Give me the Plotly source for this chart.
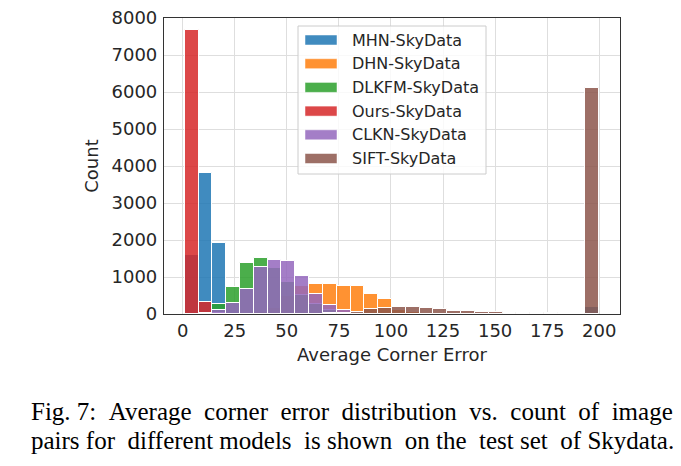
import plotly.graph_objects as go

# ---- data ----
bin_edges = [1.00, 7.63, 14.27, 20.90, 27.53, 34.17, 40.80, 47.43, 54.07, 60.70,
             67.33, 73.97, 80.60, 87.23, 93.87, 100.50, 107.13, 113.77, 120.40, 127.03,
             133.67, 140.30, 146.93, 153.57, 160.20, 166.83, 173.47, 180.10, 186.73, 193.37,
             200.00]

series_names = ["MHN-SkyData", "DHN-SkyData", "DLKFM-SkyData", "Ours-SkyData", "CLKN-SkyData", "SIFT-SkyData"]

mhn = [1593, 3817, 1921, 120, 40, 10, 0, 0, 0, 0,
       0, 0, 0, 0, 0, 0, 0, 0, 0, 0,
       0, 0, 0, 0, 0, 0, 0, 0, 0, 200]
dhn = [0, 0, 0, 0, 10, 50, 150, 480, 745, 820,
       820, 765, 746, 546, 400, 120, 60, 30, 15, 10,
       5, 0, 0, 0, 0, 0, 0, 0, 0, 0]
dlkfm = [0, 0, 260, 738, 1375, 1521, 1250, 855, 520, 260,
         110, 40, 15, 5, 0, 0, 0, 0, 0, 0,
         0, 0, 0, 0, 0, 0, 0, 0, 0, 0]
ours = [7670, 320, 40, 0, 0, 0, 0, 0, 0, 0,
        0, 0, 0, 0, 0, 0, 0, 0, 0, 0,
        0, 0, 0, 0, 0, 0, 0, 0, 0, 0]
clkn = [0, 20, 100, 292, 674, 1266, 1457, 1421, 1038, 546,
        254, 109, 30, 10, 0, 0, 0, 0, 0, 0,
        0, 0, 0, 0, 0, 0, 0, 0, 0, 0]
sift = [0, 0, 0, 0, 0, 0, 0, 0, 0, 10,
        20, 30, 50, 128, 164, 183, 183, 164, 137, 82,
        73, 46, 64, 37, 20, 20, 20, 0, 0, 6120]

x_ticks = [0, 25, 50, 75, 100, 125, 150, 175, 200]
y_ticks = [0, 1000, 2000, 3000, 4000, 5000, 6000, 7000, 8000]

caption_lines = [
    "Fig. 7: Average corner error distribution vs. count of image",
    "pairs for different models is shown on the test set of Skydata.",
]

# ---- styling ----
colors = ["31,119,180", "255,127,14", "44,160,44", "214,39,40", "148,103,189", "140,86,75"]
alpha = 0.85
W, H = 681, 466
OFF = 8  # page body margin in the browser
# target plot box in screen pixels
SL, SR, ST, SB = 164, 620, 18, 314
L, R, T, B = SL - OFF, SR - OFF, ST - OFF, SB - OFF

def px(x):
    return (x - SL) / (SR - SL)

def py(y):
    return (SB - y) / (SB - ST)

centers = [(a + b) / 2 for a, b in zip(bin_edges[:-1], bin_edges[1:])]
widths = [b - a for a, b in zip(bin_edges[:-1], bin_edges[1:])]

fig = go.Figure()
all_series = [mhn, dhn, dlkfm, ours, clkn, sift]
for name, vals, c in zip(series_names, all_series, colors):
    fig.add_trace(go.Bar(
        x=centers, y=vals, width=widths, name=name,
        marker=dict(color=f"rgba({c},{alpha})", line=dict(color="white", width=1)),
        showlegend=False,
    ))

grid = "#dedede"
frame = "#333333"
tick_font = dict(family="DejaVu Sans", size=18, color="#262626")
title_font = dict(family="DejaVu Sans", size=18, color="#262626")

fig.update_layout(
    width=W, height=H,
    margin=dict(l=L, r=W - R, t=T, b=H - B, pad=0, autoexpand=False),
    paper_bgcolor="white", plot_bgcolor="white",
    barmode="overlay", bargap=0,
    font=dict(family="DejaVu Sans", color="#262626"),
)
fig.update_xaxes(
    range=[-8.95, 209.95], tickvals=x_ticks, ticktext=[str(v) for v in x_ticks],
    showgrid=True, gridcolor=grid, gridwidth=1.2, zeroline=False,
    showline=True, linecolor=frame, linewidth=1.2, mirror=True,
    ticks="", ticklen=0, tickfont=tick_font, automargin=False, ticklabeloverflow="allow",
    title=dict(text="Average Corner Error", font=title_font, standoff=8),
)
fig.update_yaxes(
    range=[0, 8000], tickvals=y_ticks, ticktext=[str(v) for v in y_ticks],
    showgrid=True, gridcolor=grid, gridwidth=1.2, zeroline=False,
    showline=True, linecolor=frame, linewidth=1.2, mirror=True,
    ticks="", ticklen=0, tickfont=tick_font, automargin=False, ticklabelstandoff=2,
    ticklabeloverflow="allow",
    title=dict(text="Count", font=title_font, standoff=8),
)

# ---- legend (drawn manually to match patch shape) ----
fig.add_shape(type="rect", xref="paper", yref="paper",
              x0=px(298), x1=px(486), y0=py(174), y1=py(26),
              fillcolor="rgba(255,255,255,0.8)", line=dict(color="#cccccc", width=1))
for i, (name, c) in enumerate(zip(series_names, colors)):
    yc = 40 + 23.7 * i
    fig.add_shape(type="rect", xref="paper", yref="paper",
                  x0=px(305), x1=px(337), y0=py(yc + 5), y1=py(yc - 5),
                  fillcolor=f"rgba({c},{alpha})", line=dict(color="white", width=0.5))
    fig.add_annotation(xref="paper", yref="paper", x=px(350), y=py(yc),
                       xanchor="left", yanchor="middle", showarrow=False,
                       text=name, font=dict(family="DejaVu Sans", size=16, color="#262626"))

# ---- caption (justified by widening word gaps) ----
NB = "\u00a0"
line1_words = caption_lines[0].split(" ")
line1 = line1_words[0]
for k, w in enumerate(line1_words[1:]):
    line1 += (" " + NB if k in (1, 2, 3, 4, 5, 6, 7, 8) else " ") + w
line2_words = caption_lines[1].split(" ")
line2 = line2_words[0]
for k, w in enumerate(line2_words[1:]):
    line2 += (" " + NB if k in (1, 3, 5, 7, 9) else " ") + w
for line, yc in zip([line1, line2], [411, 440]):
    fig.add_annotation(xref="paper", yref="paper", x=px(29), y=py(yc),
                       xanchor="left", yanchor="middle", showarrow=False,
                       text=line, font=dict(family="Liberation Serif", size=25, color="black"))

fig.write_html("out.html")
